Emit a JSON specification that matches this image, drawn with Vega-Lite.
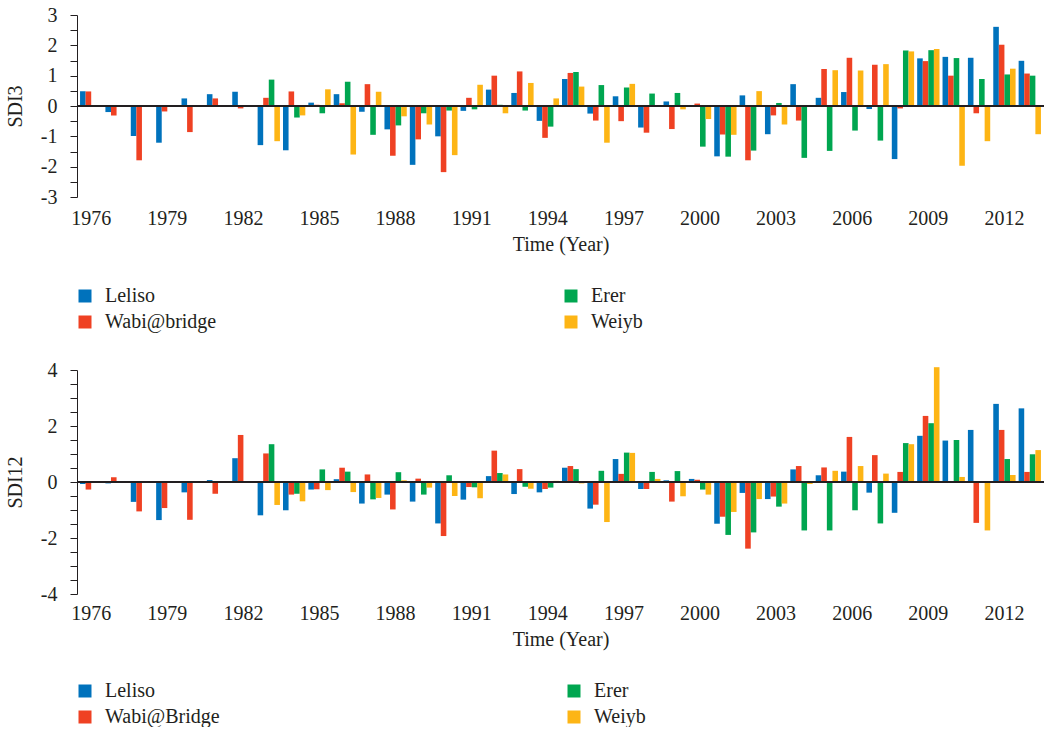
{
  "$schema": "https://vega.github.io/schema/vega-lite/v6.json",
  "background": "white",
  "padding": {"left": 5, "top": 5, "right": 0, "bottom": 0},
  "spacing": 28,
  "config": {
    "font": "Liberation Serif",
    "view": {"stroke": null},
    "axis": {"labelFont": "Liberation Serif", "titleFont": "Liberation Serif", "labelFontSize": 20, "titleFontSize": 20, "titleFontWeight": "normal", "labelColor": "#231f20", "titleColor": "#231f20", "domainColor": "#231f20", "tickColor": "#231f20", "grid": false},
    "legend": {"labelFont": "Liberation Serif", "labelFontSize": 20, "labelColor": "#231f20", "symbolType": "square", "symbolSize": 169, "symbolStrokeWidth": 0, "labelOffset": 10, "rowPadding": 6}
  },
  "datasets": {
    "sdi3": [
      {"year":1976,"station":"Leliso","value":0.49},{"year":1976,"station":"Wabi@bridge","value":0.48},
      {"year":1977,"station":"Leliso","value":-0.20},{"year":1977,"station":"Wabi@bridge","value":-0.31},
      {"year":1978,"station":"Leliso","value":-0.99},{"year":1978,"station":"Wabi@bridge","value":-1.79},
      {"year":1979,"station":"Leliso","value":-1.21},{"year":1979,"station":"Wabi@bridge","value":-0.18},
      {"year":1980,"station":"Leliso","value":0.25},{"year":1980,"station":"Wabi@bridge","value":-0.86},
      {"year":1981,"station":"Leliso","value":0.39},{"year":1981,"station":"Wabi@bridge","value":0.25},
      {"year":1982,"station":"Leliso","value":0.47},{"year":1982,"station":"Wabi@bridge","value":-0.08},
      {"year":1983,"station":"Leliso","value":-1.29},{"year":1983,"station":"Wabi@bridge","value":0.27},{"year":1983,"station":"Erer","value":0.87},{"year":1983,"station":"Weiyb","value":-1.16},
      {"year":1984,"station":"Leliso","value":-1.46},{"year":1984,"station":"Wabi@bridge","value":0.48},{"year":1984,"station":"Erer","value":-0.38},{"year":1984,"station":"Weiyb","value":-0.31},
      {"year":1985,"station":"Leliso","value":0.11},{"year":1985,"station":"Wabi@bridge","value":0.04},{"year":1985,"station":"Erer","value":-0.24},{"year":1985,"station":"Weiyb","value":0.55},
      {"year":1986,"station":"Leliso","value":0.39},{"year":1986,"station":"Wabi@bridge","value":0.09},{"year":1986,"station":"Erer","value":0.80},{"year":1986,"station":"Weiyb","value":-1.60},
      {"year":1987,"station":"Leliso","value":-0.19},{"year":1987,"station":"Wabi@bridge","value":0.72},{"year":1987,"station":"Erer","value":-0.95},{"year":1987,"station":"Weiyb","value":0.47},
      {"year":1988,"station":"Leliso","value":-0.77},{"year":1988,"station":"Wabi@bridge","value":-1.64},{"year":1988,"station":"Erer","value":-0.64},{"year":1988,"station":"Weiyb","value":-0.34},
      {"year":1989,"station":"Leliso","value":-1.94},{"year":1989,"station":"Wabi@bridge","value":-1.10},{"year":1989,"station":"Erer","value":-0.24},{"year":1989,"station":"Weiyb","value":-0.61},
      {"year":1990,"station":"Leliso","value":-1.00},{"year":1990,"station":"Wabi@bridge","value":-2.18},{"year":1990,"station":"Erer","value":-0.15},{"year":1990,"station":"Weiyb","value":-1.62},
      {"year":1991,"station":"Leliso","value":-0.16},{"year":1991,"station":"Wabi@bridge","value":0.27},{"year":1991,"station":"Erer","value":-0.11},{"year":1991,"station":"Weiyb","value":0.70},
      {"year":1992,"station":"Leliso","value":0.54},{"year":1992,"station":"Wabi@bridge","value":1.00},{"year":1992,"station":"Erer","value":0.04},{"year":1992,"station":"Weiyb","value":-0.24},
      {"year":1993,"station":"Leliso","value":0.43},{"year":1993,"station":"Wabi@bridge","value":1.14},{"year":1993,"station":"Erer","value":-0.15},{"year":1993,"station":"Weiyb","value":0.76},
      {"year":1994,"station":"Leliso","value":-0.49},{"year":1994,"station":"Wabi@bridge","value":-1.05},{"year":1994,"station":"Erer","value":-0.68},{"year":1994,"station":"Weiyb","value":0.25},
      {"year":1995,"station":"Leliso","value":0.89},{"year":1995,"station":"Wabi@bridge","value":1.09},{"year":1995,"station":"Erer","value":1.12},{"year":1995,"station":"Weiyb","value":0.64},
      {"year":1996,"station":"Leliso","value":-0.25},{"year":1996,"station":"Wabi@bridge","value":-0.48},{"year":1996,"station":"Erer","value":0.69},{"year":1996,"station":"Weiyb","value":-1.21},
      {"year":1997,"station":"Leliso","value":0.32},{"year":1997,"station":"Wabi@bridge","value":-0.50},{"year":1997,"station":"Erer","value":0.61},{"year":1997,"station":"Weiyb","value":0.73},
      {"year":1998,"station":"Leliso","value":-0.71},{"year":1998,"station":"Wabi@bridge","value":-0.88},{"year":1998,"station":"Erer","value":0.41},{"year":1998,"station":"Weiyb","value":-0.03},
      {"year":1999,"station":"Leliso","value":0.15},{"year":1999,"station":"Wabi@bridge","value":-0.76},{"year":1999,"station":"Erer","value":0.43},{"year":1999,"station":"Weiyb","value":-0.11},
      {"year":2000,"station":"Leliso","value":-0.03},{"year":2000,"station":"Wabi@bridge","value":0.08},{"year":2000,"station":"Erer","value":-1.34},{"year":2000,"station":"Weiyb","value":-0.43},
      {"year":2001,"station":"Leliso","value":-1.66},{"year":2001,"station":"Wabi@bridge","value":-0.94},{"year":2001,"station":"Erer","value":-1.67},{"year":2001,"station":"Weiyb","value":-0.95},
      {"year":2002,"station":"Leliso","value":0.35},{"year":2002,"station":"Wabi@bridge","value":-1.79},{"year":2002,"station":"Erer","value":-1.47},{"year":2002,"station":"Weiyb","value":0.49},
      {"year":2003,"station":"Leliso","value":-0.93},{"year":2003,"station":"Wabi@bridge","value":-0.31},{"year":2003,"station":"Erer","value":0.10},{"year":2003,"station":"Weiyb","value":-0.61},
      {"year":2004,"station":"Leliso","value":0.72},{"year":2004,"station":"Wabi@bridge","value":-0.48},{"year":2004,"station":"Erer","value":-1.71},{"year":2004,"station":"Weiyb","value":0.03},
      {"year":2005,"station":"Leliso","value":0.27},{"year":2005,"station":"Wabi@bridge","value":1.22},{"year":2005,"station":"Erer","value":-1.48},{"year":2005,"station":"Weiyb","value":1.18},
      {"year":2006,"station":"Leliso","value":0.46},{"year":2006,"station":"Wabi@bridge","value":1.59},{"year":2006,"station":"Erer","value":-0.81},{"year":2006,"station":"Weiyb","value":1.17},
      {"year":2007,"station":"Leliso","value":-0.10},{"year":2007,"station":"Wabi@bridge","value":1.36},{"year":2007,"station":"Erer","value":-1.14},{"year":2007,"station":"Weiyb","value":1.38},
      {"year":2008,"station":"Leliso","value":-1.75},{"year":2008,"station":"Wabi@bridge","value":-0.08},{"year":2008,"station":"Erer","value":1.83},{"year":2008,"station":"Weiyb","value":1.80},
      {"year":2009,"station":"Leliso","value":1.57},{"year":2009,"station":"Wabi@bridge","value":1.48},{"year":2009,"station":"Erer","value":1.84},{"year":2009,"station":"Weiyb","value":1.88},
      {"year":2010,"station":"Leliso","value":1.62},{"year":2010,"station":"Wabi@bridge","value":1.00},{"year":2010,"station":"Erer","value":1.58},{"year":2010,"station":"Weiyb","value":-1.97},
      {"year":2011,"station":"Leliso","value":1.59},{"year":2011,"station":"Wabi@bridge","value":-0.24},{"year":2011,"station":"Erer","value":0.89},{"year":2011,"station":"Weiyb","value":-1.16},
      {"year":2012,"station":"Leliso","value":2.61},{"year":2012,"station":"Wabi@bridge","value":2.02},{"year":2012,"station":"Erer","value":1.04},{"year":2012,"station":"Weiyb","value":1.23},
      {"year":2013,"station":"Leliso","value":1.49},{"year":2013,"station":"Wabi@bridge","value":1.07},{"year":2013,"station":"Erer","value":1.00},{"year":2013,"station":"Weiyb","value":-0.93}
    ],
    "sdi12": [
      {"year":1976,"station":"Leliso","value":-0.07},{"year":1976,"station":"Wabi@Bridge","value":-0.27},
      {"year":1977,"station":"Leliso","value":-0.05},{"year":1977,"station":"Wabi@Bridge","value":0.17},
      {"year":1978,"station":"Leliso","value":-0.71},{"year":1978,"station":"Wabi@Bridge","value":-1.05},
      {"year":1979,"station":"Leliso","value":-1.36},{"year":1979,"station":"Wabi@Bridge","value":-0.93},
      {"year":1980,"station":"Leliso","value":-0.37},{"year":1980,"station":"Wabi@Bridge","value":-1.35},
      {"year":1981,"station":"Leliso","value":0.07},{"year":1981,"station":"Wabi@Bridge","value":-0.42},
      {"year":1982,"station":"Leliso","value":0.85},{"year":1982,"station":"Wabi@Bridge","value":1.68},
      {"year":1983,"station":"Leliso","value":-1.19},{"year":1983,"station":"Wabi@Bridge","value":1.02},{"year":1983,"station":"Erer","value":1.35},{"year":1983,"station":"Weiyb","value":-0.82},
      {"year":1984,"station":"Leliso","value":-1.01},{"year":1984,"station":"Wabi@Bridge","value":-0.45},{"year":1984,"station":"Erer","value":-0.42},{"year":1984,"station":"Weiyb","value":-0.69},
      {"year":1985,"station":"Leliso","value":-0.27},{"year":1985,"station":"Wabi@Bridge","value":-0.26},{"year":1985,"station":"Erer","value":0.45},{"year":1985,"station":"Weiyb","value":-0.29},
      {"year":1986,"station":"Leliso","value":0.10},{"year":1986,"station":"Wabi@Bridge","value":0.51},{"year":1986,"station":"Erer","value":0.37},{"year":1986,"station":"Weiyb","value":-0.36},
      {"year":1987,"station":"Leliso","value":-0.77},{"year":1987,"station":"Wabi@Bridge","value":0.27},{"year":1987,"station":"Erer","value":-0.62},{"year":1987,"station":"Weiyb","value":-0.57},
      {"year":1988,"station":"Leliso","value":-0.45},{"year":1988,"station":"Wabi@Bridge","value":-0.98},{"year":1988,"station":"Erer","value":0.35},{"year":1988,"station":"Weiyb","value":0.06},
      {"year":1989,"station":"Leliso","value":-0.70},{"year":1989,"station":"Wabi@Bridge","value":0.12},{"year":1989,"station":"Erer","value":-0.45},{"year":1989,"station":"Weiyb","value":-0.20},
      {"year":1990,"station":"Leliso","value":-1.48},{"year":1990,"station":"Wabi@Bridge","value":-1.93},{"year":1990,"station":"Erer","value":0.24},{"year":1990,"station":"Weiyb","value":-0.50},
      {"year":1991,"station":"Leliso","value":-0.63},{"year":1991,"station":"Wabi@Bridge","value":-0.18},{"year":1991,"station":"Erer","value":-0.19},{"year":1991,"station":"Weiyb","value":-0.58},
      {"year":1992,"station":"Leliso","value":0.21},{"year":1992,"station":"Wabi@Bridge","value":1.12},{"year":1992,"station":"Erer","value":0.32},{"year":1992,"station":"Weiyb","value":0.27},
      {"year":1993,"station":"Leliso","value":-0.43},{"year":1993,"station":"Wabi@Bridge","value":0.46},{"year":1993,"station":"Erer","value":-0.17},{"year":1993,"station":"Weiyb","value":-0.24},
      {"year":1994,"station":"Leliso","value":-0.37},{"year":1994,"station":"Wabi@Bridge","value":-0.25},{"year":1994,"station":"Erer","value":-0.20},{"year":1994,"station":"Weiyb","value":0.04},
      {"year":1995,"station":"Leliso","value":0.51},{"year":1995,"station":"Wabi@Bridge","value":0.57},{"year":1995,"station":"Erer","value":0.46},{"year":1995,"station":"Weiyb","value":-0.05},
      {"year":1996,"station":"Leliso","value":-0.95},{"year":1996,"station":"Wabi@Bridge","value":-0.81},{"year":1996,"station":"Erer","value":0.40},{"year":1996,"station":"Weiyb","value":-1.43},
      {"year":1997,"station":"Leliso","value":0.82},{"year":1997,"station":"Wabi@Bridge","value":0.29},{"year":1997,"station":"Erer","value":1.05},{"year":1997,"station":"Weiyb","value":1.04},
      {"year":1998,"station":"Leliso","value":-0.25},{"year":1998,"station":"Wabi@Bridge","value":-0.25},{"year":1998,"station":"Erer","value":0.36},{"year":1998,"station":"Weiyb","value":0.11},
      {"year":1999,"station":"Leliso","value":0.06},{"year":1999,"station":"Wabi@Bridge","value":-0.70},{"year":1999,"station":"Erer","value":0.39},{"year":1999,"station":"Weiyb","value":-0.51},
      {"year":2000,"station":"Leliso","value":0.11},{"year":2000,"station":"Wabi@Bridge","value":0.08},{"year":2000,"station":"Erer","value":-0.27},{"year":2000,"station":"Weiyb","value":-0.45},
      {"year":2001,"station":"Leliso","value":-1.49},{"year":2001,"station":"Wabi@Bridge","value":-1.24},{"year":2001,"station":"Erer","value":-1.89},{"year":2001,"station":"Weiyb","value":-1.07},
      {"year":2002,"station":"Leliso","value":-0.39},{"year":2002,"station":"Wabi@Bridge","value":-2.38},{"year":2002,"station":"Erer","value":-1.80},{"year":2002,"station":"Weiyb","value":-0.61},
      {"year":2003,"station":"Leliso","value":-0.61},{"year":2003,"station":"Wabi@Bridge","value":-0.52},{"year":2003,"station":"Erer","value":-0.88},{"year":2003,"station":"Weiyb","value":-0.77},
      {"year":2004,"station":"Leliso","value":0.45},{"year":2004,"station":"Wabi@Bridge","value":0.57},{"year":2004,"station":"Erer","value":-1.73},{"year":2004,"station":"Weiyb","value":-0.07},
      {"year":2005,"station":"Leliso","value":0.24},{"year":2005,"station":"Wabi@Bridge","value":0.52},{"year":2005,"station":"Erer","value":-1.73},{"year":2005,"station":"Weiyb","value":0.40},
      {"year":2006,"station":"Leliso","value":0.37},{"year":2006,"station":"Wabi@Bridge","value":1.61},{"year":2006,"station":"Erer","value":-1.01},{"year":2006,"station":"Weiyb","value":0.57},
      {"year":2007,"station":"Leliso","value":-0.38},{"year":2007,"station":"Wabi@Bridge","value":0.96},{"year":2007,"station":"Erer","value":-1.48},{"year":2007,"station":"Weiyb","value":0.30},
      {"year":2008,"station":"Leliso","value":-1.10},{"year":2008,"station":"Wabi@Bridge","value":0.36},{"year":2008,"station":"Erer","value":1.39},{"year":2008,"station":"Weiyb","value":1.35},
      {"year":2009,"station":"Leliso","value":1.65},{"year":2009,"station":"Wabi@Bridge","value":2.36},{"year":2009,"station":"Erer","value":2.10},{"year":2009,"station":"Weiyb","value":4.10},
      {"year":2010,"station":"Leliso","value":1.48},{"year":2010,"station":"Wabi@Bridge","value":0.02},{"year":2010,"station":"Erer","value":1.50},{"year":2010,"station":"Weiyb","value":0.18},
      {"year":2011,"station":"Leliso","value":1.86},{"year":2011,"station":"Wabi@Bridge","value":-1.46},{"year":2011,"station":"Erer","value":0.01},{"year":2011,"station":"Weiyb","value":-1.73},
      {"year":2012,"station":"Leliso","value":2.79},{"year":2012,"station":"Wabi@Bridge","value":1.86},{"year":2012,"station":"Erer","value":0.82},{"year":2012,"station":"Weiyb","value":0.25},
      {"year":2013,"station":"Leliso","value":2.63},{"year":2013,"station":"Wabi@Bridge","value":0.36},{"year":2013,"station":"Erer","value":0.99},{"year":2013,"station":"Weiyb","value":1.14}
    ]
  },
  "vconcat": [
    {
      "width": 967,
      "height": 182,
      "data": {"name": "sdi3"},
      "layer": [
        {
          "mark": {"type": "bar"},
          "encoding": {
            "x": {"field": "year", "type": "ordinal", "scale": {"paddingInner": 0.12, "paddingOuter": 0.12},
                  "axis": {"values": [1976,1979,1982,1985,1988,1991,1994,1997,2000,2003,2006,2009,2012], "labelAngle": 0, "ticks": false, "tickSize": 0, "domain": false, "labelPadding": 11, "title": "Time (Year)", "titlePadding": 6}},
            "xOffset": {"field": "station", "type": "nominal", "scale": {"domain": ["Leliso","Wabi@bridge","Erer","Weiyb"]}},
            "y": {"field": "value", "type": "quantitative", "scale": {"domain": [-3, 3], "nice": false},
                  "axis": {"values": [-3,-2.5,-2,-1.5,-1,-0.5,0,0.5,1,1.5,2,2.5,3], "tickCount": 100, "labelOverlap": false, "labelExpr": "datum.value % 1 === 0 ? '' + datum.value : ''", "title": "SDI3", "tickSize": 7, "labelPadding": 13, "titlePadding": 15}},
            "color": {"field": "station", "type": "nominal",
                      "scale": {"domain": ["Leliso","Wabi@bridge","Erer","Weiyb"], "range": ["#0072bc","#ef4123","#00a650","#fdb515"]},
                      "legend": {"orient": "none", "legendX": -2, "legendY": 271, "columns": 2, "columnPadding": 344, "title": null, "labelFont": "Liberation Serif", "labelFontSize": 20}}
          }
        },
        {"mark": {"type": "rule", "color": "#231f20", "strokeWidth": 1.5}, "encoding": {"y": {"datum": 0}}}
      ]
    },
    {
      "width": 967,
      "height": 224,
      "data": {"name": "sdi12"},
      "layer": [
        {
          "mark": {"type": "bar"},
          "encoding": {
            "x": {"field": "year", "type": "ordinal", "scale": {"paddingInner": 0.12, "paddingOuter": 0.12},
                  "axis": {"values": [1976,1979,1982,1985,1988,1991,1994,1997,2000,2003,2006,2009,2012], "labelAngle": 0, "ticks": false, "tickSize": 0, "domain": false, "labelPadding": 9, "title": "Time (Year)", "titlePadding": 6}},
            "xOffset": {"field": "station", "type": "nominal", "scale": {"domain": ["Leliso","Wabi@Bridge","Erer","Weiyb"]}},
            "y": {"field": "value", "type": "quantitative", "scale": {"domain": [-4, 4], "nice": false},
                  "axis": {"values": [-4,-3.5,-3,-2.5,-2,-1.5,-1,-0.5,0,0.5,1,1.5,2,2.5,3,3.5,4], "tickCount": 100, "labelOverlap": false, "labelExpr": "datum.value % 2 === 0 ? '' + datum.value : ''", "title": "SDI12", "tickSize": 7, "labelPadding": 13, "titlePadding": 15}},
            "color": {"field": "station", "type": "nominal",
                      "scale": {"domain": ["Leliso","Wabi@Bridge","Erer","Weiyb"], "range": ["#0072bc","#ef4123","#00a650","#fdb515"]},
                      "legend": {"orient": "none", "legendX": -2, "legendY": 311, "columns": 2, "columnPadding": 344, "title": null, "labelFont": "Liberation Serif", "labelFontSize": 20}}
          }
        },
        {"mark": {"type": "rule", "color": "#231f20", "strokeWidth": 1.5}, "encoding": {"y": {"datum": 0}}}
      ]
    }
  ],
  "resolve": {"scale": {"color": "independent", "x": "independent", "y": "independent", "xOffset": "independent"}, "legend": {"color": "independent"}}
}
